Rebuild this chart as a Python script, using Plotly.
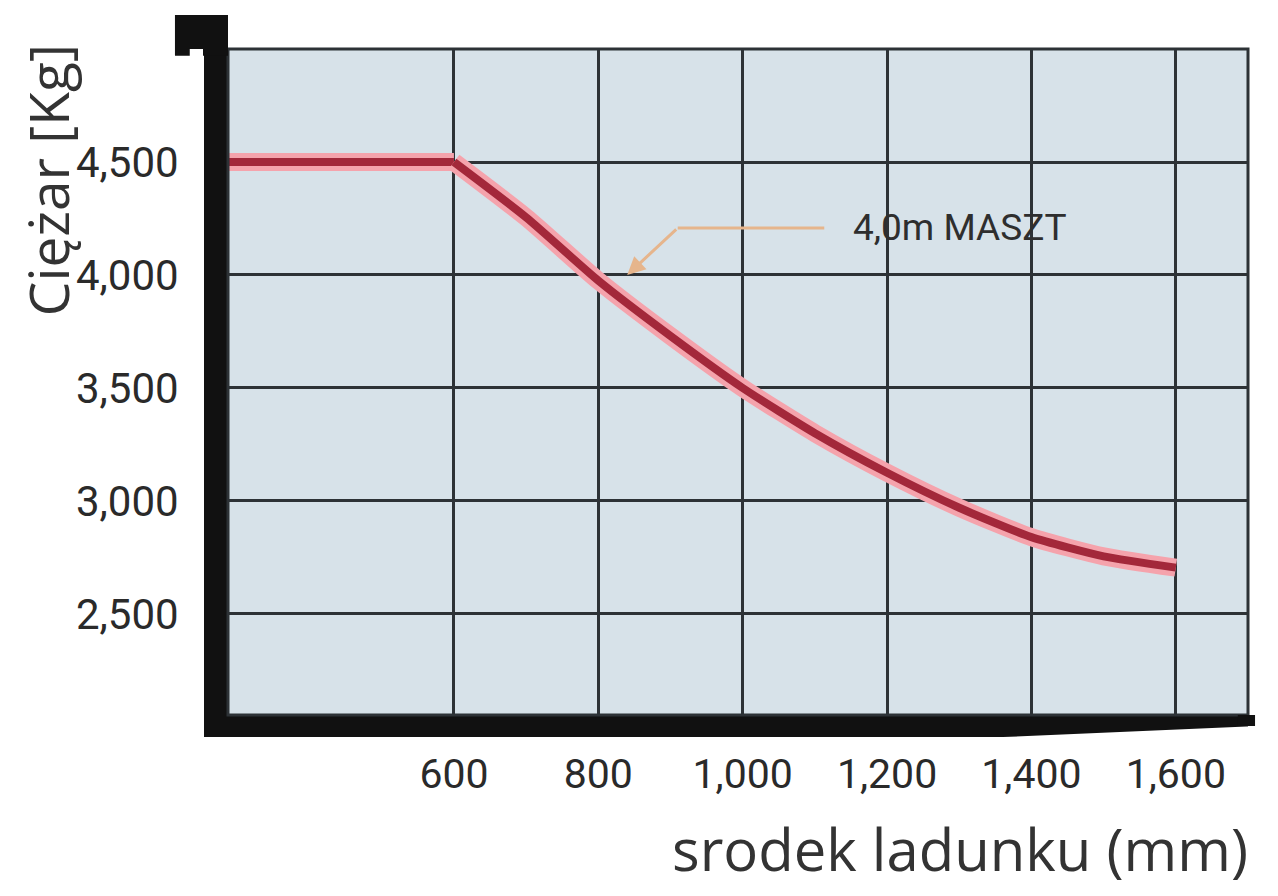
import plotly.graph_objects as go

# load centre (mm) vs rated weight (kg), 4.0 m mast
x_flat = [287, 600]
y_flat = [4500, 4500]

x_curve = [600, 700, 800, 900, 1000, 1100, 1200, 1300, 1400, 1500, 1600]
y_curve = [4500, 4255, 3975, 3730, 3500, 3300, 3125, 2970, 2840, 2755, 2705]

x_ticks = [600, 800, 1000, 1200, 1400, 1600]
x_ticktext = ["600", "800", "1,000", "1,200", "1,400", "1,600"]
y_ticks = [2500, 3000, 3500, 4000, 4500]
y_ticktext = ["2,500", "3,000", "3,500", "4,000", "4,500"]

narrow = "Roboto, sans-serif"
halo = "#f5a3ac"
core = "#a3283a"

fig = go.Figure()
for xs, ys in [(x_flat, y_flat), (x_curve, y_curve)]:
    fig.add_trace(go.Scatter(x=xs, y=ys, mode="lines",
                             line=dict(color=halo, width=18, shape="spline", smoothing=0.6),
                             hoverinfo="skip"))
    fig.add_trace(go.Scatter(x=xs, y=ys, mode="lines",
                             line=dict(color=core, width=8, shape="spline", smoothing=0.6)))

# annotation arrow (two segments) and label
fig.add_shape(type="line", x0=910, y0=4208, x1=1113, y1=4208,
              line=dict(color="#e6b58c", width=3))
fig.add_annotation(x=840, y=4000, ax=910, ay=4208, axref="x", ayref="y",
                   text="", showarrow=True, arrowhead=2, arrowsize=1.2,
                   arrowwidth=3, arrowcolor="#e6b58c")
fig.add_annotation(x=1150, y=4208, text="4,0m MASZT", showarrow=False,
                   xanchor="left", yanchor="middle",
                   font=dict(family=narrow, size=37, color="#2e2e2e"))

# titles
fig.add_annotation(x=-0.1775, y=0.803, xref="paper", yref="paper",
                   text="Ciężar [Kg]", textangle=-90, showarrow=False,
                   xanchor="center", yanchor="middle",
                   font=dict(family="Open Sans, sans-serif", size=55, color="#333333"))
fig.add_annotation(x=1.002, y=-0.2, xref="paper", yref="paper",
                   text="srodek ladunku (mm)", showarrow=False,
                   xanchor="right", yanchor="middle",
                   font=dict(family="Open Sans, sans-serif", size=58, color="#333333"))

# frame: thin top/right border, hook at top-left, tapered end of the base bar
fig.add_shape(type="rect", xref="paper", yref="paper", x0=0, y0=0, x1=1, y1=1,
              line=dict(color="#2d3236", width=3), layer="above")
fig.add_shape(type="path", xref="paper", yref="paper",
              path="M -0.0520,1.0510 L 0.0,1.0510 L 0.0,0.99 L -0.0245,0.99 "
                   "L -0.0245,1.0000 L -0.0375,1.0000 L -0.0375,0.99 L -0.0520,0.99 Z",
              fillcolor="#111111", line=dict(width=0), layer="above")
fig.add_shape(type="path", xref="paper", yref="paper",
              path="M 0.76,-0.0331 L 1.01,-0.0331 L 1.01,-0.0165 Z",
              fillcolor="white", line=dict(width=0), layer="above")
fig.add_shape(type="rect", xref="paper", yref="paper",
              x0=0.99, x1=1.0069, y0=-0.0165, y1=0.0,
              fillcolor="#111111", line=dict(width=0), layer="above")

# the page body adds an 8px margin, so the margins below are offset by it
fig.update_layout(
    width=1278, height=896,
    margin=dict(l=220, r=38, t=41, b=189),
    paper_bgcolor="white",
    plot_bgcolor="#d7e2e9",
    showlegend=False,
    xaxis=dict(range=[287, 1700], tickvals=x_ticks, ticktext=x_ticktext,
               showgrid=True, gridcolor="#2d3236", gridwidth=3, zeroline=False,
               showline=True, linecolor="#111111", linewidth=22,
               ticks="", ticklabelstandoff=2,
               tickfont=dict(family=narrow, size=41, color="#2a2a2a")),
    yaxis=dict(range=[2053, 5000], tickvals=y_ticks, ticktext=y_ticktext,
               showgrid=True, gridcolor="#2d3236", gridwidth=3, zeroline=False,
               showline=True, linecolor="#111111", linewidth=24,
               ticks="", ticklabelstandoff=17,
               tickfont=dict(family=narrow, size=42, color="#2a2a2a")),
)

fig.write_html("out.html")
